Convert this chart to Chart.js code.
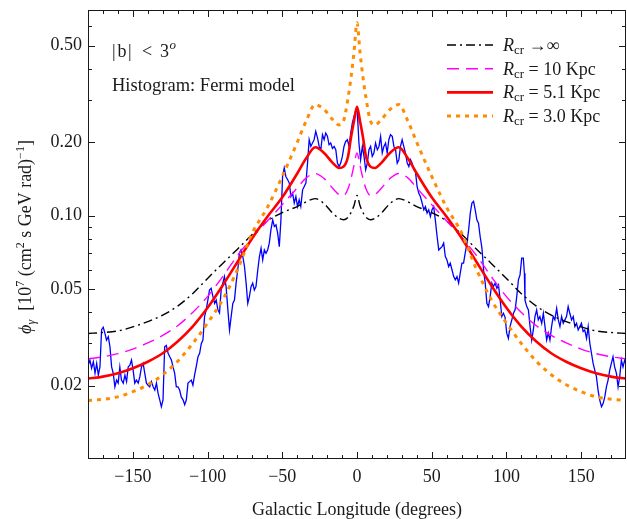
<!DOCTYPE html>
<html>
<head>
<meta charset="utf-8">
<script src="https://cdn.jsdelivr.net/npm/chart.js@4.4.0/dist/chart.umd.min.js"></script>
<style>
  html, body { margin: 0; padding: 0; background: #fff; }
  #wrap { width: 627px; height: 519px; }
</style>
</head>
<body>
<div id="wrap"><canvas id="flux" width="627" height="519"></canvas></div>
<script>
// Longitudes (deg) where the model curves are tabulated
const modelLon = [-180, -170, -160, -150, -140, -130, -120, -110, -100, -90, -80, -70, -60, -50, -40, -34, -28, -22, -16, -12, -9, -6, -4, -2,
  0, 2, 4, 6, 9, 12, 16, 22, 28, 34, 40, 50, 60, 70, 80, 90, 100, 110, 120, 130, 140, 150, 160, 170, 180]

// Model flux for each cosmic-ray radius R_cr
const fluxInf = [0.0328, 0.0331, 0.0336, 0.0349, 0.0367, 0.0390, 0.0425, 0.0478, 0.0552, 0.0635, 0.0728, 0.0838, 0.0950, 0.1030, 0.1090, 0.1140, 0.1175, 0.1120, 0.1020, 0.0975, 0.0962, 0.0985, 0.1030, 0.1100,
  0.1210, 0.1100, 0.1030, 0.0985, 0.0962, 0.0975, 0.1020, 0.1120, 0.1175, 0.1140, 0.1090, 0.1030, 0.0950, 0.0838, 0.0728, 0.0635, 0.0552, 0.0478, 0.0425, 0.0390, 0.0367, 0.0349, 0.0336, 0.0331, 0.0328]
const flux10 = [0.0258, 0.0263, 0.0271, 0.0283, 0.0300, 0.0322, 0.0353, 0.0400, 0.0465, 0.0560, 0.0685, 0.0815, 0.0950, 0.1110, 0.1300, 0.1430, 0.1490, 0.1420, 0.1290, 0.1220, 0.1210, 0.1290, 0.1420, 0.1610,
  0.1810, 0.1610, 0.1420, 0.1290, 0.1210, 0.1220, 0.1290, 0.1420, 0.1490, 0.1430, 0.1300, 0.1110, 0.0950, 0.0815, 0.0685, 0.0560, 0.0465, 0.0400, 0.0353, 0.0322, 0.0300, 0.0283, 0.0271, 0.0263, 0.0258]
const flux51 = [0.0214, 0.0218, 0.0225, 0.0236, 0.0251, 0.0272, 0.0304, 0.0350, 0.0418, 0.0515, 0.0645, 0.0810, 0.0990, 0.1190, 0.1490, 0.1720, 0.1910, 0.1810, 0.1640, 0.1570, 0.1590, 0.1750, 0.2100, 0.2450,
  0.2800, 0.2450, 0.2100, 0.1750, 0.1590, 0.1570, 0.1640, 0.1810, 0.1910, 0.1720, 0.1490, 0.1190, 0.0990, 0.0810, 0.0645, 0.0515, 0.0418, 0.0350, 0.0304, 0.0272, 0.0251, 0.0236, 0.0225, 0.0218, 0.0214]
const flux30 = [0.0174, 0.0176, 0.0180, 0.0189, 0.0202, 0.0222, 0.0252, 0.0298, 0.0362, 0.0450, 0.0600, 0.0850, 0.1080, 0.1450, 0.2000, 0.2450, 0.2860, 0.2730, 0.2470, 0.2360, 0.2450, 0.3050, 0.3700, 0.4700,
  0.6200, 0.4700, 0.3700, 0.3050, 0.2450, 0.2360, 0.2470, 0.2730, 0.2860, 0.2450, 0.2000, 0.1450, 0.1080, 0.0850, 0.0600, 0.0450, 0.0362, 0.0298, 0.0252, 0.0222, 0.0202, 0.0189, 0.0180, 0.0176, 0.0174]

// Fermi diffuse model histogram
const fermiLon = [-180, -179.8, -178.7, -177.6, -176.4, -175.3, -174.2, -173.1, -172, -170.9, -169.8, -168.7, -167.6, -166.4, -165.3, -164.2, -163.1, -162, -160.9, -159.8,
  -158.7, -157.6, -156.4, -155.3, -154.2, -153.1, -152, -150.9, -149.8, -148.7, -147.6, -146.4, -145.3, -144.2, -143.1, -142, -140.9, -139.8, -138.7, -137.6,
  -136.4, -135.3, -134.2, -133.1, -132, -130.9, -129.8, -128.7, -127.6, -126.4, -125.3, -124.2, -123.1, -122, -120.9, -119.8, -118.7, -117.6, -116.4, -115.3,
  -114.2, -113.1, -112, -110.9, -109.8, -108.7, -107.6, -106.4, -105.3, -104.2,
  -103.1, -102, -100.9, -99.8, -98.7, -97.6, -96.4, -95.3, -94.2, -93.1, -92, -90.9, -89.8, -88.7, -87.6, -86.4, -85.3, -84.2, -83.1, -82,
  -80.9, -79.8, -78.7, -77.6, -76.4, -75.3, -74.2, -73.1, -72, -70.9, -69.8, -68.7, -67.6, -66.4, -65.3, -64.2, -63.1, -62, -60.9, -59.8,
  -58.7, -57.6, -56.4, -55.3, -54.2, -53.1, -52, -50.9, -49.8, -48.7, -47.6, -46.4, -45.3, -44.2, -43.1, -42, -40.9, -39.8, -38.7, -37.6,
  -36.4, -35.3, -34.2, -33.1, -32, -30.9, -29.8, -28.7, -27.6, -26.4, -25.3, -24.2, -23.1, -22, -20.9, -19.8, -18.7, -17.6, -16.4, -15.3,
  -14.2, -13.1, -12, -10.9, -9.8, -8.7, -7.6, -6.4, -5.3, -4.2, -3.1, -2, -0.9, 0, 0.6,
  1.3, 2.4, 3.6, 4.7, 5.8, 6.9, 8, 9.1, 10.2, 11.3, 12.4, 13.6, 14.7, 15.8, 16.9, 18, 19.1, 20.2, 21.3, 22.4,
  23.6, 24.7, 25.8, 26.9, 28, 29.1, 30.2, 31.3, 32.4, 33.6, 34.7, 35.8, 36.9, 38, 39.1, 40.2, 41.3, 42.4, 43.6, 44.7,
  45.8, 46.9, 48, 49.1, 50.2, 51.3, 52.4, 53.6, 54.7, 55.8, 56.9, 58, 59.1, 60.2, 61.3, 62.4, 63.6, 64.7, 65.8, 66.9,
  68, 69.1, 70.2, 71.3, 72.4, 73.6, 74.7, 75.8, 76.9, 78, 79.1, 80.2, 81.3, 82.4, 83.6, 84.7, 85.8, 86.9,
  88, 89.1, 90.2, 91.3, 92.4, 93.6, 94.7, 95.8, 96.9, 98, 99.1, 100.2, 101.3, 102.4, 103.6, 104.7, 105.8, 106.9, 108, 109.1,
  110.2, 111.3, 112, 112.4, 113.6, 114.7, 115.8, 116.9, 118, 119.1, 120.2, 121.3, 122.4, 123.6, 124.7, 125.8, 126.9, 128, 129.1, 130.2,
  131.3, 132.4, 133.6, 134.7, 135.8, 136.9, 138, 139.1, 140.2, 141.3, 142.4, 143.6, 144.7, 145.8, 146.9, 148, 149.1, 150.2, 151.3, 152.4,
  153.6, 154.7, 155.8, 156.9, 158, 159.1, 160.2, 161.3, 162.4, 163.6, 164.7, 165.8, 166.9, 168, 169.1, 170.2, 171.3, 172.4, 173.6, 174.7,
  175.8, 176.9, 178, 179.1, 180]
const fermiFlux = [0.0240, 0.0243, 0.0255, 0.0236, 0.0251, 0.0225, 0.0247, 0.0221, 0.0239, 0.0340, 0.0348, 0.0329, 0.0308, 0.0318, 0.0289, 0.0239, 0.0225, 0.0198, 0.0211, 0.0205,
  0.0239, 0.0211, 0.0205, 0.0221, 0.0208, 0.0239, 0.0243, 0.0255, 0.0232, 0.0205, 0.0211, 0.0205, 0.0218, 0.0239, 0.0247, 0.0225, 0.0205, 0.0201, 0.0198, 0.0208,
  0.0198, 0.0192, 0.0205, 0.0186, 0.0175, 0.0164, 0.0175, 0.0289, 0.0293, 0.0272, 0.0263, 0.0255, 0.0239, 0.0225, 0.0198, 0.0198, 0.0192, 0.0180, 0.0175, 0.0167,
  0.0175, 0.0205, 0.0208, 0.0211, 0.0201, 0.0221, 0.0239, 0.0263, 0.0272, 0.0298,
  0.0308, 0.0385, 0.0410, 0.0450, 0.0495, 0.0503, 0.0465, 0.0436, 0.0450, 0.0410, 0.0398, 0.0495, 0.0528, 0.0562, 0.0511, 0.0410, 0.0339, 0.0385, 0.0436, 0.0450,
  0.0528, 0.0598, 0.0701, 0.0723, 0.0679, 0.0618, 0.0528, 0.0436, 0.0465, 0.0511, 0.0528, 0.0495, 0.0511, 0.0598, 0.0679, 0.0735, 0.0658, 0.0723, 0.0701, 0.0723,
  0.0771, 0.0874, 0.0961, 0.0902, 0.0917, 0.0848, 0.0746, 0.0961, 0.1449, 0.1570, 0.1449, 0.1405, 0.1361, 0.1199, 0.1238, 0.1126, 0.1199, 0.1090, 0.1162, 0.1090,
  0.1277, 0.1318, 0.1361, 0.1644, 0.2051, 0.1925, 0.1988, 0.2051, 0.2220, 0.2084, 0.1925, 0.1866, 0.2151, 0.2051, 0.2186, 0.2120, 0.1956, 0.1988, 0.1890, 0.1925,
  0.1866, 0.1644, 0.1590, 0.1644, 0.1752, 0.1925, 0.2018, 0.2051, 0.1925, 0.2186, 0.2404, 0.2560, 0.2680, 0.2720, 0.2400,
  0.1988, 0.1698, 0.1925, 0.1752, 0.1544, 0.1644, 0.1866, 0.1925, 0.1752, 0.1809, 0.1988, 0.1866, 0.1925, 0.2117, 0.1809, 0.1925, 0.1988, 0.1809, 0.2051, 0.2151,
  0.2117, 0.1925, 0.1866, 0.1644, 0.1698, 0.1925, 0.2051, 0.1925, 0.1809, 0.1644, 0.1590, 0.1698, 0.1644, 0.1544, 0.1520, 0.1318, 0.1238, 0.1199, 0.1126, 0.1057,
  0.1090, 0.1024, 0.1057, 0.0992, 0.1057, 0.1090, 0.0961, 0.0821, 0.0723, 0.0735, 0.0746, 0.0771, 0.0679, 0.0658, 0.0618, 0.0638, 0.0598, 0.0562, 0.0545, 0.0562,
  0.0528, 0.0580, 0.0638, 0.0638, 0.0701, 0.0771, 0.0874, 0.1024, 0.1126, 0.1144, 0.1057, 0.0961, 0.0932, 0.0821, 0.0735, 0.0598, 0.0528, 0.0436,
  0.0423, 0.0465, 0.0528, 0.0511, 0.0528, 0.0503, 0.0519, 0.0450, 0.0385, 0.0397, 0.0382, 0.0329, 0.0313, 0.0350, 0.0373, 0.0397, 0.0410, 0.0465, 0.0545, 0.0571,
  0.0669, 0.0669, 0.0580, 0.0450, 0.0423, 0.0410, 0.0350, 0.0308, 0.0339, 0.0385, 0.0410, 0.0373, 0.0385, 0.0361, 0.0397, 0.0350, 0.0308, 0.0329, 0.0308, 0.0350,
  0.0385, 0.0373, 0.0416, 0.0373, 0.0350, 0.0385, 0.0361, 0.0373, 0.0385, 0.0423, 0.0397, 0.0373, 0.0385, 0.0350, 0.0361, 0.0339, 0.0350, 0.0361, 0.0334, 0.0339,
  0.0313, 0.0350, 0.0299, 0.0272, 0.0247, 0.0232, 0.0218, 0.0192, 0.0175, 0.0164, 0.0169, 0.0180, 0.0198, 0.0211, 0.0232, 0.0247, 0.0263, 0.0239, 0.0225, 0.0198,
  0.0218, 0.0255, 0.0239, 0.0255, 0.0245]

// Axis ticks
const xTicks = [-150, -100, -50, 0, 50, 100, 150]
const xMinorTicks = [-170, -160, -140, -130, -120, -110, -90, -80, -70, -60, -40, -30, -20, -10,
  10, 20, 30, 40, 60, 70, 80, 90, 110, 120, 130, 140, 160, 170]
const yTicks = [0.02, 0.05, 0.1, 0.2, 0.5]
const yMinorTicks = [0.03, 0.04, 0.06, 0.07, 0.08, 0.09, 0.3, 0.4, 0.6]

const serif = "'Liberation Serif', 'Times New Roman', serif"
const ink = '#1a1a1a'

const font = (size, italic) => (italic ? 'italic ' : '') + size + 'px ' + serif

// draws a list of text runs (with sub/superscripts) left to right, returns end x
function drawRuns(ctx, x, y, runs) {
  for (const r of runs) {
    ctx.font = font(r.size, r.italic)
    ctx.fillText(r.t, x, y + (r.dy || 0))
    x += ctx.measureText(r.t).width
  }
  return x
}

function runsWidth(ctx, runs) {
  let w = 0
  for (const r of runs) {
    ctx.font = font(r.size, r.italic)
    w += ctx.measureText(r.t).width
  }
  return w
}

const legendText = [
  ' \u2192\u221E',
  ' = 10 Kpc',
  ' = 5.1 Kpc',
  ' = 3.0 Kpc',
]

const toPoints = (xs, ys) => xs.map((x, i) => ({ x, y: ys[i] }))

// Frame with inward ticks, legend and annotations
const framePlugin = {
  id: 'framePlugin',
  afterDatasetsDraw(chart) {
    const { ctx, chartArea: a, scales: { x, y } } = chart
    ctx.save()
    ctx.strokeStyle = ink
    ctx.lineWidth = 1
    ctx.setLineDash([])
    ctx.strokeRect(a.left + 0.5, a.top + 0.5, a.right - a.left - 1, a.bottom - a.top - 1)

    ctx.beginPath()
    const xTick = (v, len) => {
      const px = Math.round(x.getPixelForValue(v)) + 0.5
      ctx.moveTo(px, a.bottom); ctx.lineTo(px, a.bottom - len)
      ctx.moveTo(px, a.top); ctx.lineTo(px, a.top + len)
    }
    const yTick = (v, len) => {
      const py = Math.round(y.getPixelForValue(v)) + 0.5
      ctx.moveTo(a.left, py); ctx.lineTo(a.left + len, py)
      ctx.moveTo(a.right, py); ctx.lineTo(a.right - len, py)
    }
    xTicks.forEach(v => xTick(v, 7))
    xMinorTicks.forEach(v => xTick(v, 4))
    yTicks.forEach(v => yTick(v, 7))
    yMinorTicks.forEach(v => yTick(v, 4))
    ctx.stroke()

    // legend
    ctx.fillStyle = ink
    ctx.textBaseline = 'alphabetic'
    ctx.textAlign = 'left'
    legendText.forEach((txt, i) => {
      const ds = chart.data.datasets[i]
      const cy = 45 + i * 23.7
      ctx.beginPath()
      ctx.strokeStyle = ds.borderColor
      ctx.lineWidth = ds.borderWidth
      ctx.setLineDash(ds.borderDash || [])
      ctx.moveTo(447, cy)
      ctx.lineTo(493, cy)
      ctx.stroke()
      drawRuns(ctx, 503, cy + 6, [
        { t: 'R', size: 18, italic: true },
        { t: 'cr', size: 13, dy: 3 },
        { t: txt, size: 18 },
      ])
    })
    ctx.setLineDash([])

    // latitude cut and histogram note
    ctx.font = font(18)
    ctx.fillText('|', 112, 57)
    ctx.fillText('b', 117.5, 57)
    ctx.fillText('|', 128, 57)
    ctx.fillText('<', 142, 57)
    ctx.fillText('3', 160, 57)
    ctx.font = font(13, true)
    ctx.fillText('o', 169.5, 49)
    ctx.font = font(18.5)
    ctx.fillText('Histogram: Fermi model', 112, 90.5)

    // y axis title
    const title = [
      { t: '\u03D5', size: 18, italic: true },
      { t: '\u03B3', size: 12, italic: true, dy: 4 },
      { t: '  [10', size: 18 },
      { t: '7', size: 12, dy: -7 },
      { t: ' (cm', size: 18 },
      { t: '2', size: 12, dy: -7 },
      { t: ' s GeV rad)', size: 18 },
      { t: '\u22121', size: 12, dy: -7 },
      { t: ']', size: 18 },
    ]
    ctx.translate(31, 237)
    ctx.rotate(-Math.PI / 2)
    drawRuns(ctx, -runsWidth(ctx, title) / 2, 0, title)
    ctx.restore()
  },
}

new Chart(document.getElementById('flux'), {
  type: 'line',
  data: {
    datasets: [
      {
        label: 'R_cr -> inf',
        data: toPoints(modelLon, fluxInf),
        borderColor: '#000000',
        borderWidth: 1.4,
        borderDash: [9, 4, 2, 4],
        cubicInterpolationMode: 'monotone',
        order: 4,
      },
      {
        label: 'R_cr = 10 Kpc',
        data: toPoints(modelLon, flux10),
        borderColor: '#ff00ff',
        borderWidth: 1.4,
        borderDash: [12, 7],
        cubicInterpolationMode: 'monotone',
        order: 3,
      },
      {
        label: 'R_cr = 5.1 Kpc',
        data: toPoints(modelLon, flux51),
        borderColor: '#ff0000',
        borderWidth: 2.6,
        cubicInterpolationMode: 'monotone',
        order: 2,
      },
      {
        label: 'R_cr = 3.0 Kpc',
        data: toPoints(modelLon, flux30),
        borderColor: '#ff8c00',
        borderWidth: 3,
        borderDash: [4, 5],
        cubicInterpolationMode: 'monotone',
        order: 1,
      },
      {
        label: 'Fermi model',
        data: toPoints(fermiLon, fermiFlux),
        borderColor: '#0000ff',
        borderWidth: 1.3,
        tension: 0,
        order: 5,
      },
    ],
  },
  options: {
    responsive: false,
    animation: false,
    events: [],
    elements: { point: { radius: 0 } },
    layout: { padding: { top: 10, right: 1, left: 0, bottom: 0 } },
    plugins: {
      legend: { display: false },
      tooltip: { enabled: false },
    },
    scales: {
      x: {
        type: 'linear',
        min: -180,
        max: 180,
        afterBuildTicks: s => { s.ticks = xTicks.map(v => ({ value: v })) },
        afterFit: s => {
          s.height = 60
          s.paddingLeft = 0
          s.paddingRight = 0
        },
        grid: { display: false, drawTicks: false },
        border: { display: false },
        ticks: {
          autoSkip: false,
          maxRotation: 0,
          padding: 7,
          color: ink,
          font: { family: serif, size: 18 },
          callback: v => (v < 0 ? '\u2212' + Math.abs(v) : String(v)),
        },
        title: {
          display: true,
          text: 'Galactic Longitude (degrees)',
          color: ink,
          font: { family: serif, size: 18, lineHeight: 1 },
          padding: { top: 0, bottom: 0 },
        },
      },
      y: {
        type: 'logarithmic',
        min: 0.01,
        max: 0.7,
        afterBuildTicks: s => { s.ticks = yTicks.map(v => ({ value: v })) },
        afterFit: s => {
          s.width = 88
          s.paddingTop = 0
          s.paddingBottom = 0
        },
        grid: { display: false, drawTicks: false },
        border: { display: false },
        ticks: {
          padding: 6,
          color: ink,
          font: { family: serif, size: 18 },
          callback: v => v.toFixed(2),
        },
      },
    },
  },
  plugins: [framePlugin],
})
</script>
</body>
</html>
